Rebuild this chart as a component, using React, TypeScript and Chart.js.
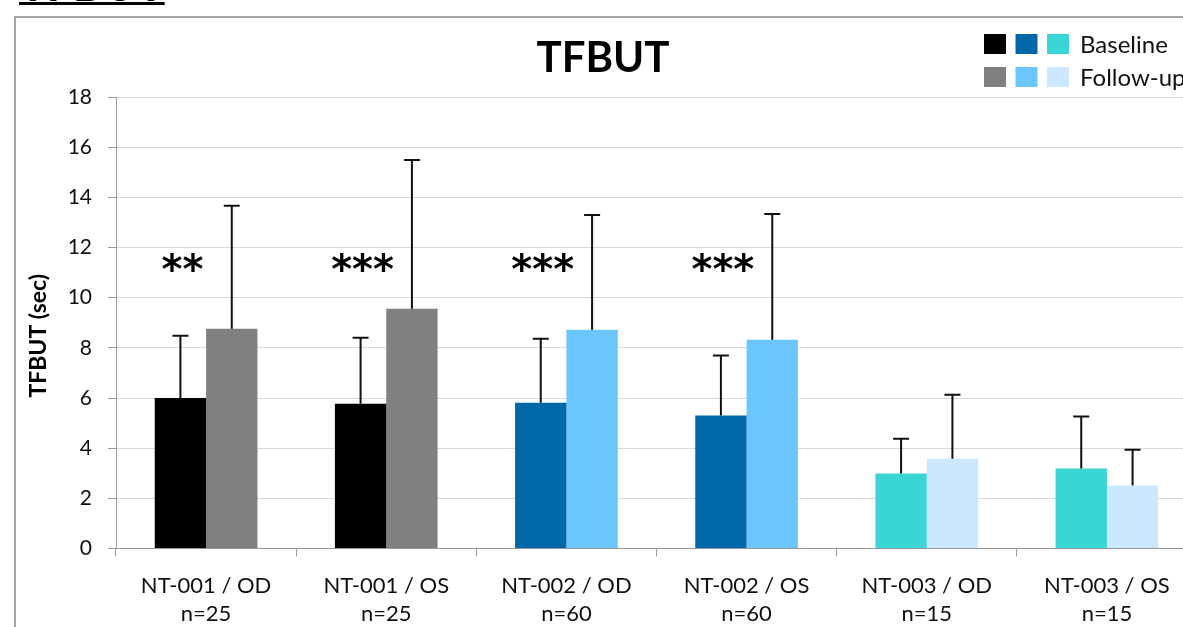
import React, { useEffect, useRef } from "react";
import { Chart, registerables } from "chart.js";

Chart.register(...registerables);

// ---- Data ----
const categories: string[][] = [
  ["NT-001 / OD", "n=25"],
  ["NT-001 / OS", "n=25"],
  ["NT-002 / OD", "n=60"],
  ["NT-002 / OS", "n=60"],
  ["NT-003 / OD", "n=15"],
  ["NT-003 / OS", "n=15"],
];
const baselineMeans = [6.0, 5.77, 5.81, 5.3, 2.99, 3.19];
const baselineSD = [2.48, 2.63, 2.55, 2.39, 1.39, 2.07];
const followUpMeans = [8.76, 9.56, 8.72, 8.32, 3.58, 2.51];
const followUpSD = [4.9, 5.93, 4.58, 5.02, 2.55, 1.43];
const significance = ["**", "***", "***", "***", "", ""];
const seriesNames = ["Baseline", "Follow-up"];
const baselinePalette = ["#000000", "#0068a8", "#3ad5d6"];
const followUpPalette = ["#808080", "#6bc5ff", "#cce8ff"];
const studyGroup = [0, 0, 1, 1, 2, 2];
const yMin = 0;
const yMax = 18;
const yStep = 2;
const starLevel = 11.4;
const chartTitle = "TFBUT";
const yAxisTitle = "TFBUT (sec)";

const baselineColors = studyGroup.map((g) => baselinePalette[g]);
const followUpColors = studyGroup.map((g) => followUpPalette[g]);
const sdSets = [baselineSD, followUpSD];

const overlayPlugin = {
  id: "overlay",
  afterDatasetsDraw(chart: any) {
    const ctx = chart.ctx;
    const yScale = chart.scales.y;
    const area = chart.chartArea;
    ctx.save();
    // error bars (upper only)
    chart.data.datasets.forEach((ds: any, di: number) => {
      const meta = chart.getDatasetMeta(di);
      meta.data.forEach((el: any, i: number) => {
        const top = yScale.getPixelForValue(ds.data[i] + sdSets[di][i]);
        ctx.strokeStyle = "#111";
        ctx.lineWidth = 2;
        ctx.beginPath();
        ctx.moveTo(el.x, el.y);
        ctx.lineTo(el.x, top);
        ctx.moveTo(el.x - 8, top);
        ctx.lineTo(el.x + 8, top);
        ctx.stroke();
      });
    });
    // significance stars
    const meta0 = chart.getDatasetMeta(0);
    ctx.fillStyle = "#000";
    ctx.font = "bold 40px 'DejaVu Sans'";
    ctx.textAlign = "center";
    ctx.textBaseline = "middle";
    meta0.data.forEach((el: any, i: number) => {
      if (significance[i]) {
        ctx.fillText(significance[i], el.x + 2, yScale.getPixelForValue(starLevel) + 10);
      }
    });
    // title
    ctx.font = "bold 42px Lato";
    ctx.fillText(chartTitle, 587, 40);
    // y axis title (rotated)
    ctx.save();
    ctx.translate(23, (area.top + area.bottom) / 2 + 13);
    ctx.rotate(-Math.PI / 2);
    ctx.font = "bold 23px Lato";
    ctx.fillText(yAxisTitle, 0, 0);
    ctx.restore();
    // legend
    const palettes = [baselinePalette, followUpPalette];
    ctx.font = "24px Lato";
    ctx.textAlign = "left";
    palettes.forEach((pal, r) => {
      const top = 16 + r * 33;
      pal.forEach((c, k) => {
        ctx.fillStyle = c;
        ctx.fillRect(968 + k * 31.5, top, 22, 20);
      });
      ctx.fillStyle = "#111";
      ctx.fillText(seriesNames[r], 1064, top + 11);
    });
    ctx.restore();
  },
};

export default function App() {
  const canvasRef = useRef<HTMLCanvasElement | null>(null);

  useEffect(() => {
    let chart: Chart | null = null;
    let cancelled = false;
    const make = () => {
      if (cancelled || !canvasRef.current) return;
      chart = new Chart(canvasRef.current, {
        type: "bar",
        data: {
          labels: categories,
          datasets: [
            {
              label: seriesNames[0],
              data: baselineMeans,
              backgroundColor: baselineColors,
              barPercentage: 1,
              categoryPercentage: 0.57,
            },
            {
              label: seriesNames[1],
              data: followUpMeans,
              backgroundColor: followUpColors,
              barPercentage: 1,
              categoryPercentage: 0.57,
            },
          ],
        },
        options: {
          animation: false,
          responsive: false,
          maintainAspectRatio: false,
          devicePixelRatio: 1,
          layout: { padding: { top: 79, right: 19, bottom: 0, left: 0 } },
          plugins: {
            legend: { display: false },
            title: { display: false },
            tooltip: { enabled: false },
          },
          scales: {
            x: {
              afterFit: (s: any) => {
                s.height = 89.5;
              },
              grid: {
                display: true,
                drawOnChartArea: false,
                offset: true,
                tickLength: 8,
                tickColor: "#9a9a9a",
              },
              border: { color: "#9a9a9a", width: 1 },
              ticks: {
                color: "#111",
                font: { family: "Lato", size: 22, lineHeight: 1.27 },
                padding: 15,
                maxRotation: 0,
                autoSkip: false,
              },
            },
            y: {
              min: yMin,
              max: yMax,
              afterFit: (s: any) => {
                s.width = 100;
              },
              grid: {
                color: "#d9d9d9",
                tickColor: "#9a9a9a",
                tickLength: 8,
              },
              border: { color: "#9a9a9a", width: 1 },
              ticks: {
                stepSize: yStep,
                color: "#111",
                font: { family: "Lato", size: 21 },
                padding: 16,
              },
              title: { display: false },
            },
          },
        },
        plugins: [overlayPlugin],
      } as any);
    };
    const fontsReady = (document as any).fonts
      ? Promise.all([
          (document as any).fonts.load("20px Lato"),
          (document as any).fonts.load("bold 20px Lato"),
          (document as any).fonts.load("bold 20px 'DejaVu Sans'"),
        ]).catch(() => null)
      : Promise.resolve(null);
    fontsReady.then(make);
    return () => {
      cancelled = true;
      if (chart) chart.destroy();
    };
  }, []);

  return (
    <div
      style={{
        position: "fixed",
        left: 0,
        top: 0,
        width: 1183,
        height: 627,
        overflow: "hidden",
        background: "#fff",
      }}
    >
      <div
        style={{
          position: "absolute",
          left: 19,
          top: -39,
          fontFamily: "Lato",
          fontWeight: "bold",
          fontSize: 46,
          lineHeight: "46px",
          textDecoration: "underline",
          textDecorationThickness: 3,
          textUnderlineOffset: 1,
          color: "#000",
          whiteSpace: "nowrap",
        }}
      >
        TFBUT
      </div>
      <div
        style={{
          position: "absolute",
          left: 14,
          top: 16,
          width: 1300,
          height: 700,
          borderLeft: "2px solid #a6a6a6",
          borderTop: "2px solid #a6a6a6",
          background: "#fff",
        }}
      >
        <canvas ref={canvasRef} width={1200} height={620} style={{ display: "block" }} />
      </div>
    </div>
  );
}
